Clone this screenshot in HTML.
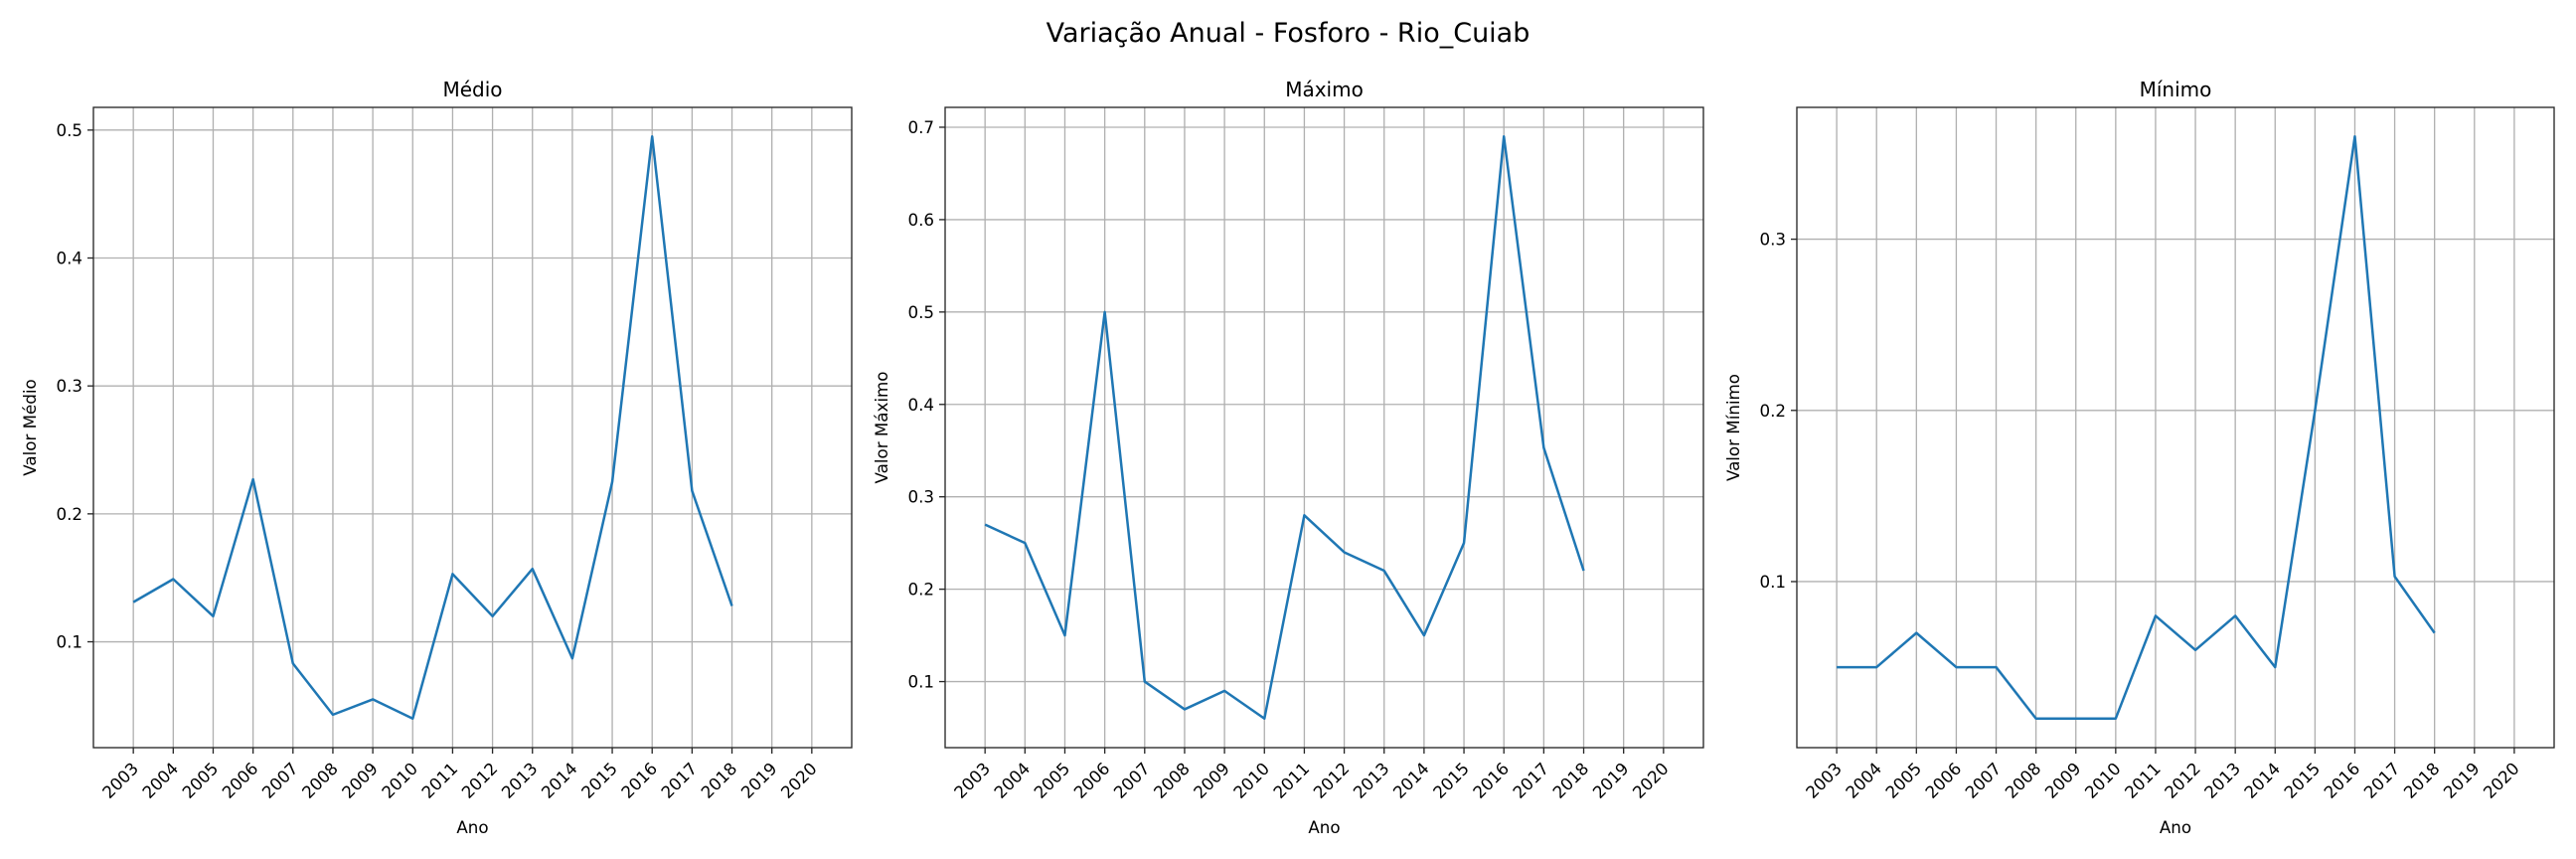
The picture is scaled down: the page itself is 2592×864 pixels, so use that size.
<!DOCTYPE html>
<html><head><meta charset="utf-8"><style>
html,body{margin:0;padding:0;background:#fff}
svg{display:block;font-family:"DejaVu Sans","Liberation Sans",sans-serif}
</style></head><body>
<svg id="fig" width="2592" height="864" viewBox="0 0 2592 864" xmlns="http://www.w3.org/2000/svg">
<rect width="2592" height="864" fill="#fff"/>
<text x="1296" y="42" font-size="27" text-anchor="middle" fill="#000">Variação Anual - Fosforo - Rio_Cuiab</text>
</svg>
<script>
const years = [2003,2004,2005,2006,2007,2008,2009,2010,2011,2012,2013,2014,2015,2016,2017,2018];
const tickYears = [2003,2004,2005,2006,2007,2008,2009,2010,2011,2012,2013,2014,2015,2016,2017,2018,2019,2020];
const medioValues = [0.131,0.149,0.120,0.227,0.083,0.043,0.055,0.040,0.153,0.120,0.157,0.087,0.225,0.495,0.218,0.128];
const maximoValues = [0.27,0.25,0.15,0.50,0.10,0.07,0.09,0.06,0.28,0.24,0.22,0.15,0.25,0.69,0.353,0.22];
const minimoValues = [0.05,0.05,0.07,0.05,0.05,0.02,0.02,0.02,0.08,0.06,0.08,0.05,0.20,0.36,0.103,0.07];
const medioTicks = [0.1,0.2,0.3,0.4,0.5];
const maximoTicks = [0.1,0.2,0.3,0.4,0.5,0.6,0.7];
const minimoTicks = [0.1,0.2,0.3];

const NS = 'http://www.w3.org/2000/svg';
const svg = document.getElementById('fig');
function el(tag, attrs, parent){
  const e = document.createElementNS(NS, tag);
  for (const k in attrs) e.setAttribute(k, attrs[k]);
  (parent||svg).appendChild(e);
  return e;
}
const TOP = 108, BOTTOM = 752;
function panel(key, left, right, title, ylabel, values, ticks){
  const g = el('g', {});
  
  
  const xmin = 2002, xmax = 2021;
  const vmin = Math.min(...values), vmax = Math.max(...values);
  const m = (vmax - vmin) * 0.05;
  const ymin = vmin - m, ymax = vmax + m;
  const xs = v => left + (v - xmin) / (xmax - xmin) * (right - left);
  const ys = v => BOTTOM - (v - ymin) / (ymax - ymin) * (BOTTOM - TOP);
  // grid
  tickYears.forEach(y => {
    const l = el('line', {x1: xs(y), x2: xs(y), y1: TOP, y2: BOTTOM, stroke: '#b0b0b0', 'stroke-width': 1.33}, g);
    
    
  });
  ticks.forEach(t => {
    const l = el('line', {x1: left, x2: right, y1: ys(t), y2: ys(t), stroke: '#b0b0b0', 'stroke-width': 1.33}, g);
    
    
  });
  // series line
  const pts = years.map((y, i) => xs(y).toFixed(2) + ',' + ys(values[i]).toFixed(2)).join(' ');
  const pl = el('polyline', {points: pts, fill: 'none', stroke: '#1f77b4', 'stroke-width': 2.5, 'stroke-linejoin': 'round'}, g);
  
  
  // frame
  const fr = el('rect', {x: left, y: TOP, width: right - left, height: BOTTOM - TOP, fill: 'none', stroke: '#262626', 'stroke-width': 1.33}, g);
  
  
  // x ticks
  tickYears.forEach(y => {
    const x = xs(y);
    el('line', {x1: x, x2: x, y1: BOTTOM, y2: BOTTOM + 6, stroke: '#262626', 'stroke-width': 1.33}, g);
    const t = el('text', {x: x - 3, y: BOTTOM + 13, 'font-size': 16.7, 'text-anchor': 'end', 'dominant-baseline': 'hanging', transform: 'rotate(-45 ' + (x - 3) + ' ' + (BOTTOM + 13) + ')', fill: '#000'}, g);
    t.textContent = y;
    
    
  });
  // y ticks
  ticks.forEach(v => {
    const y = ys(v);
    el('line', {x1: left - 6, x2: left, y1: y, y2: y, stroke: '#262626', 'stroke-width': 1.33}, g);
    const t = el('text', {x: left - 11, y: y + 6, 'font-size': 16.7, 'text-anchor': 'end', fill: '#000'}, g);
    t.textContent = v.toFixed(1);
    
    
  });
  const tt = el('text', {x: (left + right) / 2, y: 97, 'font-size': 20, 'text-anchor': 'middle', fill: '#000'}, g);
  tt.textContent = title;
  
  
  const xl = el('text', {x: (left + right) / 2, y: 838, 'font-size': 16.7, 'text-anchor': 'middle', fill: '#000'}, g);
  xl.textContent = 'Ano';
  
  
  const yx = left - 58, yy = (TOP + BOTTOM) / 2;
  const yl = el('text', {x: yx, y: yy, 'font-size': 16.7, 'text-anchor': 'middle', transform: 'rotate(-90 ' + yx + ' ' + yy + ')', fill: '#000'}, g);
  yl.textContent = ylabel;
  
  
}
panel('medio', 94, 857, 'Médio', 'Valor Médio', medioValues, medioTicks);
panel('maximo', 951, 1714, 'Máximo', 'Valor Máximo', maximoValues, maximoTicks);
panel('minimo', 1808, 2570, 'Mínimo', 'Valor Mínimo', minimoValues, minimoTicks);
</script>
</body></html>
